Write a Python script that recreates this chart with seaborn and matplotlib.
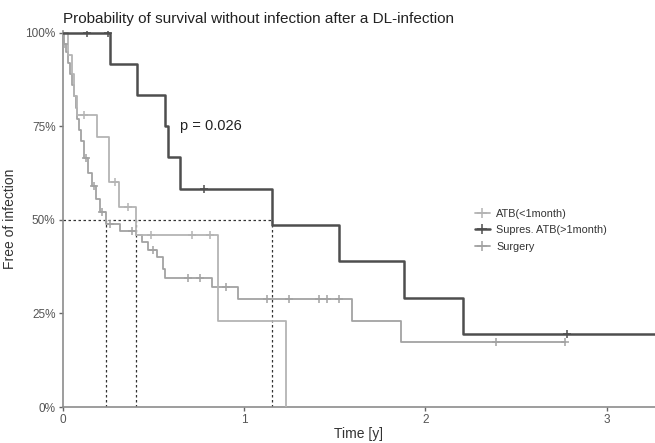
import numpy as np
import pandas as pd
import matplotlib
matplotlib.use("Agg")
import matplotlib.pyplot as plt
from matplotlib.lines import Line2D
import seaborn as sns

# Kaplan-Meier step curves: step start times (years) and survival after each step
groups = ["ATB(<1month)", "Supres. ATB(>1month)", "Surgery"]

atb_times = [0.0, 0.03, 0.05, 0.065, 0.08, 0.19, 0.256, 0.31, 0.405, 0.857, 1.23]
atb_surv = [1.0, 0.94, 0.89, 0.83, 0.78, 0.722, 0.602, 0.535, 0.46, 0.23, 0.0]
atb_end = 1.23
atb_censor = [0.118, 0.29, 0.36, 0.488, 0.713, 0.813]

sup_times = [0.0, 0.262, 0.41, 0.564, 0.58, 0.647, 1.154, 1.523, 1.88, 2.207]
sup_surv = [1.0, 0.917, 0.833, 0.75, 0.667, 0.583, 0.486, 0.389, 0.292, 0.194]
sup_end = 3.3
sup_censor = [0.135, 0.25, 0.78, 2.78]

sur_times = [0.0, 0.01, 0.02, 0.03, 0.04, 0.05, 0.063, 0.074, 0.08, 0.09, 0.10,
             0.118, 0.14, 0.163, 0.185, 0.207, 0.24, 0.317, 0.405, 0.44, 0.47,
             0.52, 0.555, 0.565, 0.824, 0.967, 1.595, 1.865]
sur_surv = [1.0, 0.97, 0.95, 0.92, 0.89, 0.86, 0.83, 0.80, 0.77, 0.74, 0.71,
            0.665, 0.625, 0.59, 0.555, 0.52, 0.49, 0.47, 0.46, 0.44, 0.42,
            0.40, 0.37, 0.345, 0.32, 0.29, 0.23, 0.174]
sur_end = 2.77
sur_censor = [0.01, 0.13, 0.174, 0.218, 0.26, 0.383, 0.5, 0.69, 0.76, 0.9,
              1.127, 1.248, 1.413, 1.457, 1.523, 2.39, 2.77]

medians = [0.24, 0.405, 1.154]
p_label = "p = 0.026"

colors = {"ATB(<1month)": "#b4b4b4",
          "Supres. ATB(>1month)": "#4e4e4e",
          "Surgery": "#a2a2a2"}
widths = {"ATB(<1month)": 1.3, "Supres. ATB(>1month)": 1.8, "Surgery": 1.3}

curves = {
    "ATB(<1month)": (atb_times, atb_surv, atb_end, atb_censor),
    "Supres. ATB(>1month)": (sup_times, sup_surv, sup_end, sup_censor),
    "Surgery": (sur_times, sur_surv, sur_end, sur_censor),
}


def step_value(times, surv, t):
    idx = np.searchsorted(times, t, side="right") - 1
    return surv[max(idx, 0)]


rows, marks = [], []
for g, (ts, ss, end, cens) in curves.items():
    for t, s in zip(ts + [end], ss + [ss[-1]]):
        rows.append({"group": g, "time": t, "surv": s})
    for c in cens:
        marks.append({"group": g, "time": c, "surv": step_value(ts, ss, c)})
steps = pd.DataFrame(rows)
cens_df = pd.DataFrame(marks)

sns.set_style("white")
plt.rcParams["font.family"] = ["Liberation Sans", "DejaVu Sans"]

fig = plt.figure(figsize=(6.55, 4.43), dpi=100)
ax = fig.add_axes([62.5 / 655, 36 / 443, 1 - 62.5 / 655, (407 - 31) / 443])

# median guide lines
ax.plot([0, medians[-1]], [0.5, 0.5], ls=(0, (2, 2)), color="#333333", lw=0.9, zorder=1)
for m in medians:
    ax.plot([m, m], [0, 0.5], ls=(0, (2, 2)), color="#333333", lw=0.9, zorder=1)

for g in ["Surgery", "ATB(<1month)", "Supres. ATB(>1month)"]:
    d = steps[steps["group"] == g]
    sns.lineplot(data=d, x="time", y="surv", ax=ax, estimator=None, sort=False,
                 drawstyle="steps-post", color=colors[g], lw=widths[g], zorder=3)
    dc = cens_df[cens_df["group"] == g]
    sns.scatterplot(data=dc, x="time", y="surv", ax=ax, marker="+", s=40,
                    color=colors[g], linewidth=1.1, zorder=4)

ax.set_xlim(0, 3.265)
ax.set_ylim(0, 1.005)
ax.set_xticks([0, 1, 2, 3])
ax.set_yticks([0, 0.25, 0.5, 0.75, 1.0])
ax.set_yticklabels(["0%", "25%", "50%", "75%", "100%"])
ax.tick_params(axis="both", length=3, width=1, color="#666666",
               labelsize=8.5, labelcolor="#555555", pad=2, bottom=True, left=True)
for side in ["top", "right"]:
    ax.spines[side].set_visible(False)
for side in ["left", "bottom"]:
    ax.spines[side].set_color("#8c8c8c")
    ax.spines[side].set_linewidth(1.2)

ax.set_xlabel("Time [y]", fontsize=10, color="#333333", labelpad=1)
ax.set_ylabel("Free of infection", fontsize=10, color="#333333", labelpad=6)
fig.text(62.5 / 655, 1 - 19 / 443, "Probability of survival without infection after a DL-infection",
         fontsize=11, color="#222222", va="center", ha="left")
ax.text(0.645, 0.75, p_label, fontsize=10.5, color="#222222", va="center", ha="left")

handles = [Line2D([0], [0], color=colors[g], lw=widths[g], marker="+", markersize=7,
                  markeredgewidth=1.1) for g in groups]
ax.legend(handles, groups, loc="upper left", bbox_to_anchor=((467 - 62.5) / 592.5, (407 - 201) / 376),
          frameon=False, fontsize=7.8, handlelength=1.4, handletextpad=0.6,
          labelspacing=0.6, borderpad=0.2, labelcolor="#333333")

fig.savefig("out.png", dpi=100)
